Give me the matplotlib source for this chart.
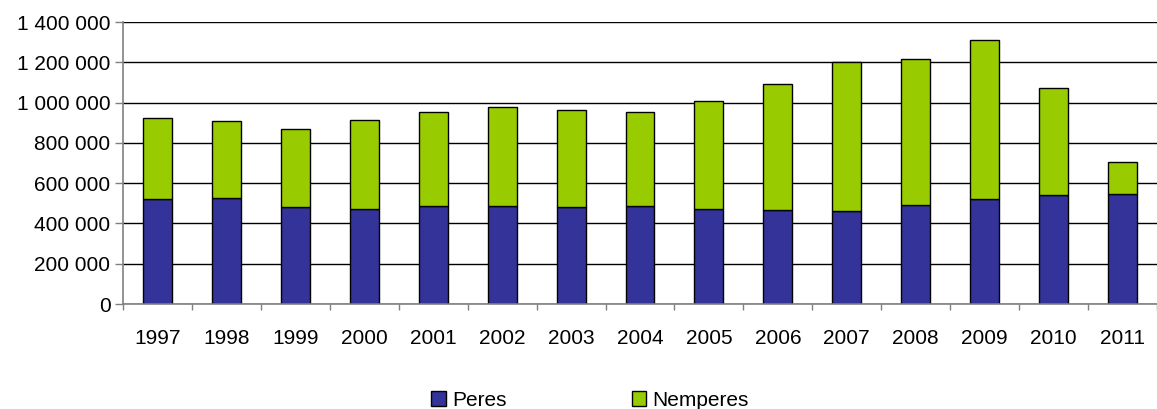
import numpy as np
import matplotlib.pyplot as plt
from matplotlib.ticker import FuncFormatter, FixedLocator

plt.rcParams["font.family"] = ["Liberation Sans", "DejaVu Sans"]

years = ["1997", "1998", "1999", "2000", "2001", "2002", "2003", "2004",
         "2005", "2006", "2007", "2008", "2009", "2010", "2011"]
peres = [520000, 526000, 480000, 473000, 487000, 487000, 480000, 487000,
         473000, 467000, 460000, 492000, 520000, 540000, 546000]
totals = [922000, 907000, 870000, 914000, 953000, 980000, 962000, 953000,
          1008000, 1094000, 1200000, 1216000, 1309000, 1072000, 703000]
nemperes = [t - p for t, p in zip(totals, peres)]

blue = "#333399"
green = "#99cc00"

fig = plt.figure(figsize=(11.57, 4.09), dpi=100)
ax = fig.add_axes([0.1063, 0.2567, 0.8937, 0.6895])

x = np.arange(len(years))
ax.bar(x, peres, width=0.42, color=blue, edgecolor="black", linewidth=1, label="Peres", zorder=3)
ax.bar(x, nemperes, width=0.42, bottom=peres, color=green, edgecolor="black", linewidth=1,
       label="Nemperes", zorder=3)

ax.set_xlim(-0.5, len(years) - 0.5)
ax.set_ylim(0, 1400000)
ax.set_yticks(np.arange(0, 1400001, 200000))
ax.yaxis.set_major_formatter(FuncFormatter(lambda v, p: f"{int(v):,}".replace(",", " ")))
ax.yaxis.grid(True, color="black", linewidth=1, zorder=0)

ax.set_xticks(x)
ax.set_xticklabels(years)
ax.tick_params(axis="x", which="major", length=0, pad=18, labelsize=15)
ax.xaxis.set_minor_locator(FixedLocator(np.arange(-0.5, len(years), 1)))
ax.tick_params(axis="x", which="minor", length=4.5, color="#808080", width=1)
ax.tick_params(axis="y", length=6, color="#808080", width=1, labelsize=15, pad=3)

for s in ["top", "right"]:
    ax.spines[s].set_visible(False)
for s in ["left", "bottom"]:
    ax.spines[s].set_color("#808080")
    ax.spines[s].set_linewidth(1.2)
    ax.spines[s].set_zorder(4)

fig.legend(loc="center", bbox_to_anchor=(0.51, 0.022), ncol=2, frameon=False,
           fontsize=15, handlelength=0.7, handleheight=0.7, handletextpad=0.3,
           columnspacing=6.0)

fig.savefig("out.png", dpi=100)
